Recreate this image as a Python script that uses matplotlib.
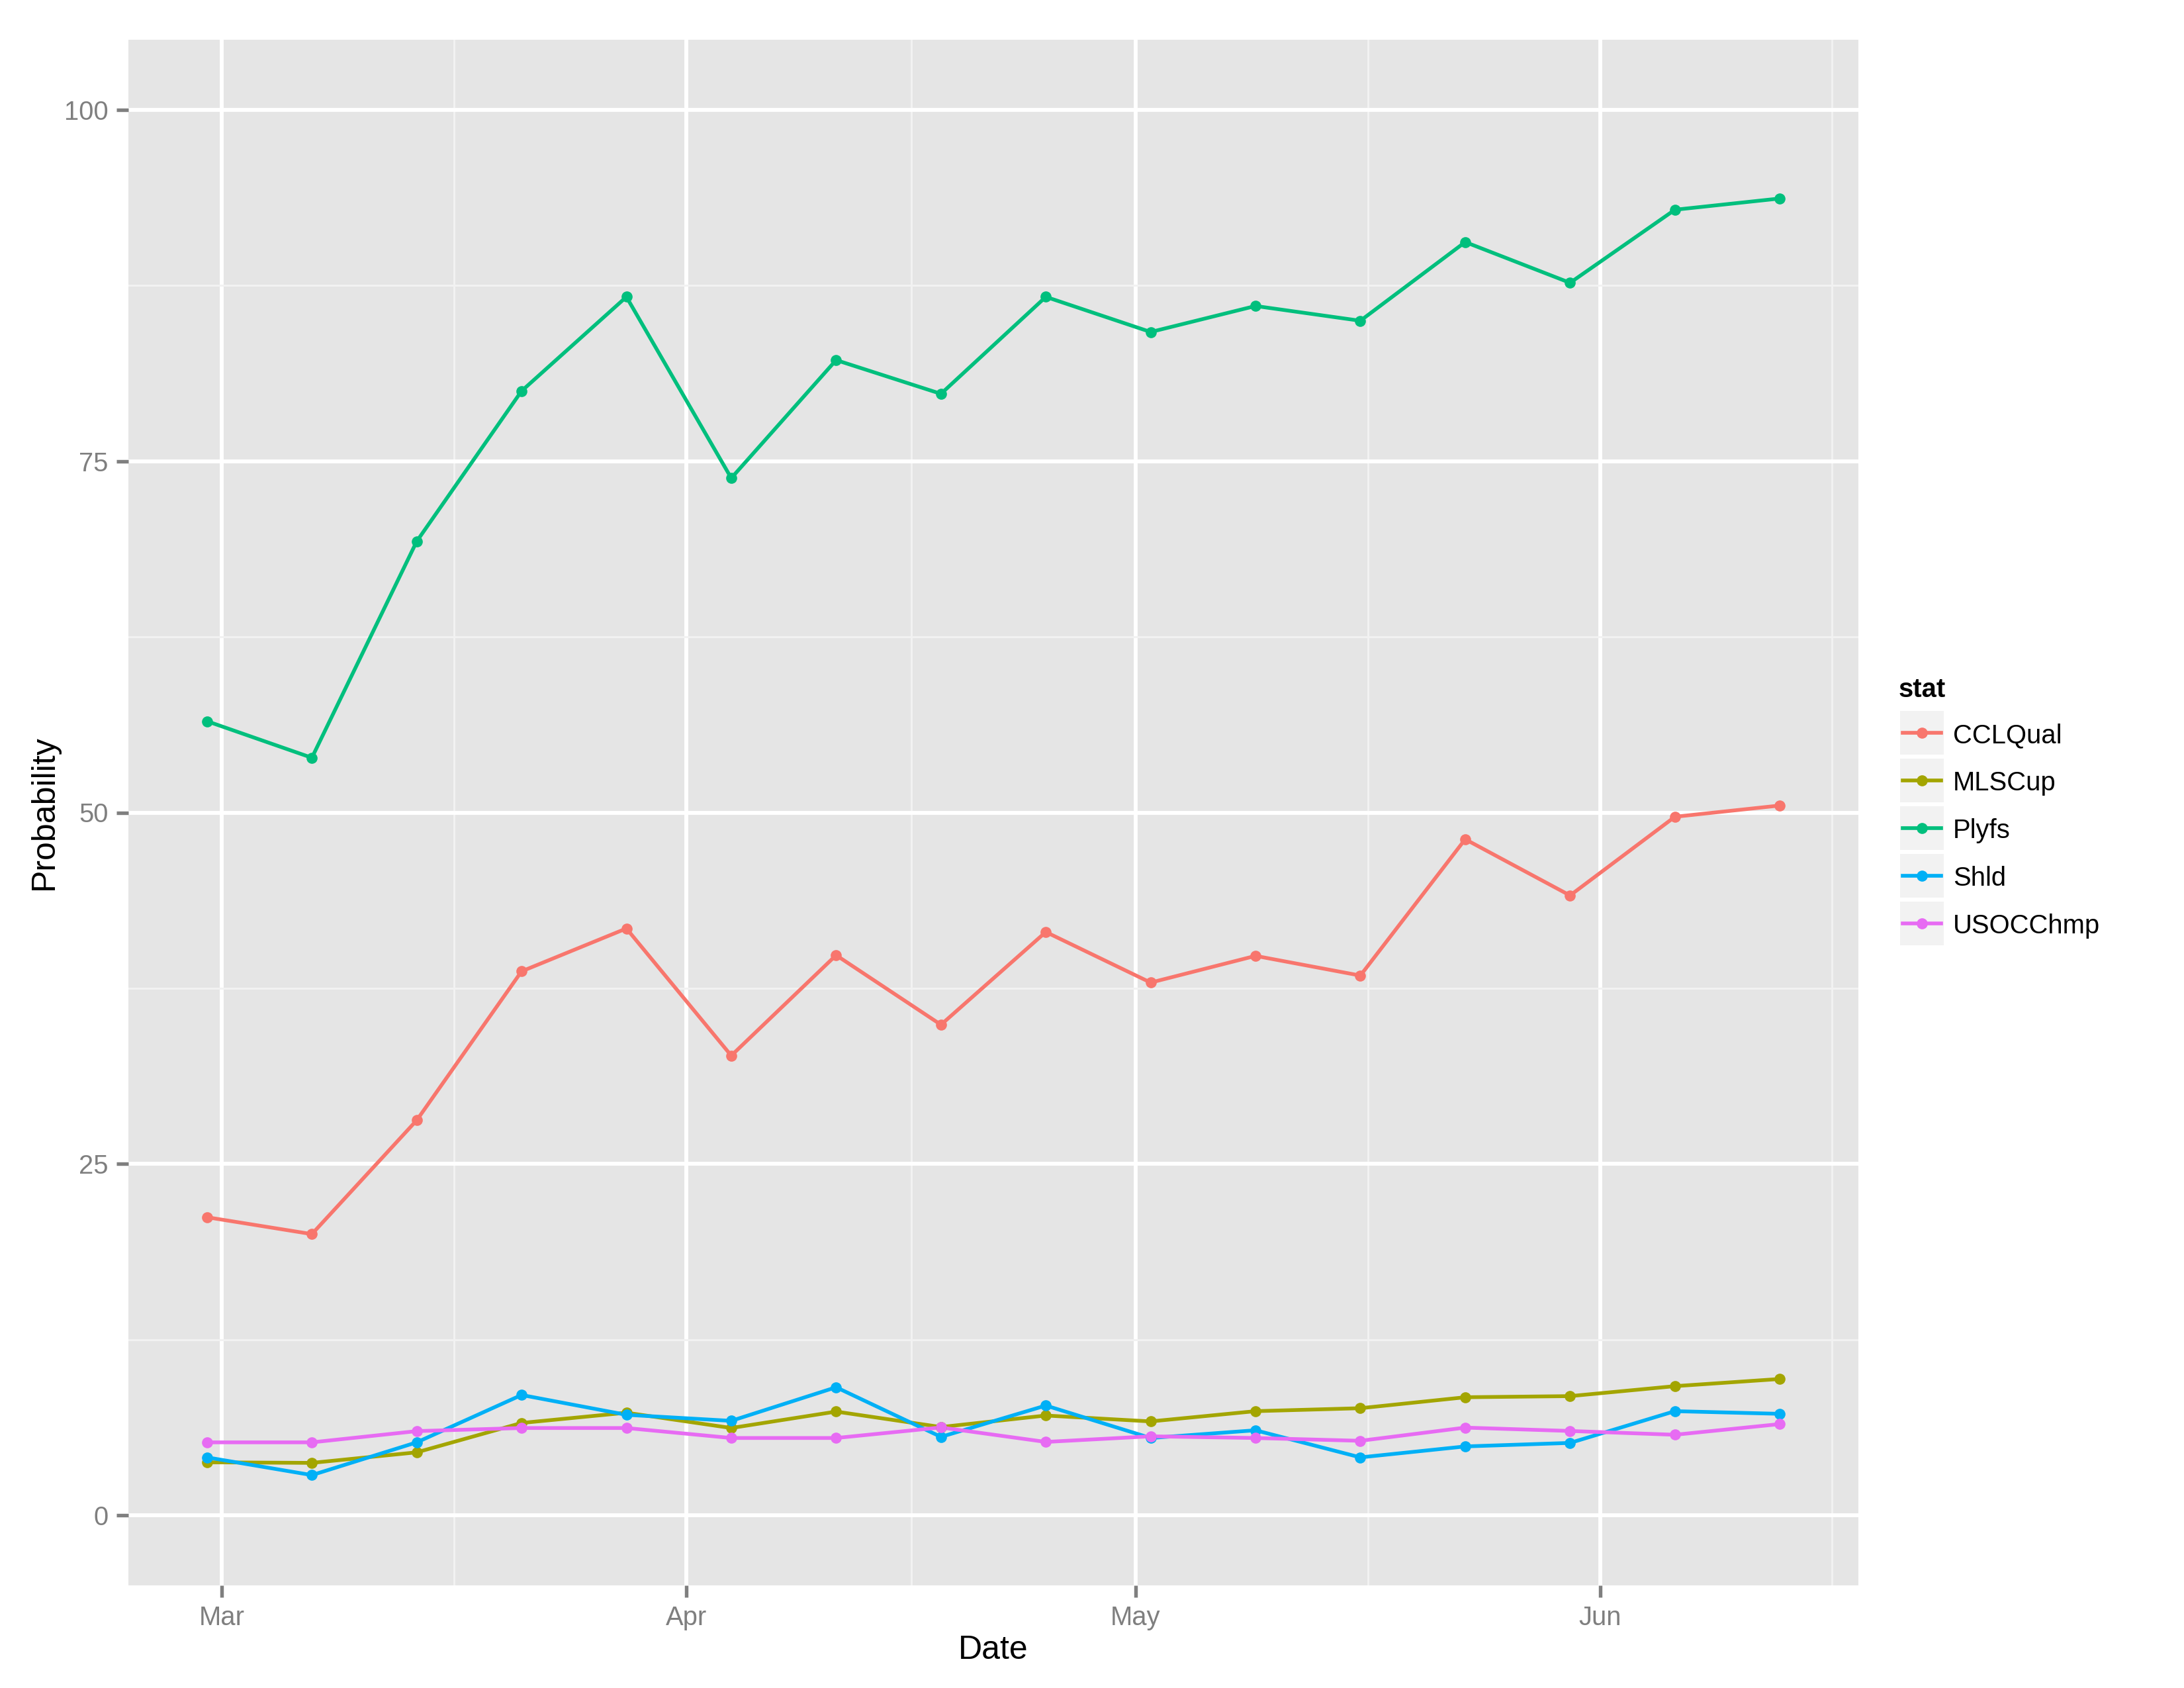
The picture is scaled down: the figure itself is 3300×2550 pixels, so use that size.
import numpy as np
import pandas as pd
import matplotlib
matplotlib.use("Agg")
import matplotlib.pyplot as plt
import matplotlib.dates as mdates
from matplotlib.patches import Rectangle
from matplotlib.lines import Line2D
from matplotlib.ticker import FixedLocator

plt.rcParams['font.family'] = ['Liberation Sans', 'DejaVu Sans']

# ---------------- data ----------------
dates = ['2015-02-28', '2015-03-07', '2015-03-14', '2015-03-21', '2015-03-28',
         '2015-04-04', '2015-04-11', '2015-04-18', '2015-04-25', '2015-05-02',
         '2015-05-09', '2015-05-16', '2015-05-23', '2015-05-30', '2015-06-06',
         '2015-06-13']

stat_names = ['CCLQual', 'MLSCup', 'Plyfs', 'Shld', 'USOCChmp']

cclqual = [21.2, 20.0, 28.1, 38.7, 41.75, 32.7, 39.85, 34.9, 41.5, 37.9,
           39.8, 38.4, 48.1, 44.1, 49.7, 50.5]
mlscup = [3.76, 3.72, 4.47, 6.56, 7.29, 6.2, 7.37, 6.27, 7.09, 6.67,
          7.4, 7.61, 8.39, 8.47, 9.18, 9.69]
plyfs = [56.5, 53.9, 69.3, 80.0, 86.7, 73.8, 82.2, 79.8, 86.7, 84.2,
         86.05, 85.0, 90.6, 87.7, 92.9, 93.7]
shld = [4.11, 2.85, 5.18, 8.55, 7.14, 6.71, 9.1, 5.57, 7.8, 5.49,
        6.04, 4.11, 4.89, 5.14, 7.4, 7.21]
usocchmp = [5.18, 5.18, 5.98, 6.2, 6.2, 5.49, 5.49, 6.24, 5.21, 5.61,
            5.49, 5.29, 6.23, 5.99, 5.72, 6.48]

colors = ['#F8766D', '#A3A500', '#00BF7D', '#00B0F6', '#E76BF3']

y_ticks = [0, 25, 50, 75, 100]
y_minor = [12.5, 37.5, 62.5, 87.5]
x_tick_dates = ['2015-03-01', '2015-04-01', '2015-05-01', '2015-06-01']
x_tick_labels = ['Mar', 'Apr', 'May', 'Jun']

series = [cclqual, mlscup, plyfs, shld, usocchmp]

# ---------------- figure ----------------
W, H = 3300, 2550
fig = plt.figure(figsize=(11, 8.5), dpi=300)
fig.patch.set_facecolor('white')

L, R, T, B = 194, 2808, 60, 2395
ax = fig.add_axes([L / W, 1 - B / H, (R - L) / W, (B - T) / H])
ax.set_facecolor('#E5E5E5')
for s in ax.spines.values():
    s.set_visible(False)

x = mdates.date2num(pd.to_datetime(dates).to_pydatetime())

LW, MS = 1.35, 4.0
for vals, c in zip(series, colors):
    ax.plot(x, vals, color=c, lw=LW, zorder=3, solid_capstyle='butt')
for vals, c in zip(series, colors):
    ax.plot(x, vals, linestyle='none', marker='o', ms=MS, mew=0,
            color=c, zorder=4)

# limits (ggplot-like 5% expansion on x)
span = x.max() - x.min()
ax.set_xlim(x.min() - 0.05 * span, x.max() + 0.05 * span)
ax.set_ylim(-5, 105)

# ticks
xt = mdates.date2num(pd.to_datetime(x_tick_dates).to_pydatetime())
ax.set_xticks(xt)
ax.set_xticklabels(x_tick_labels)
ax.set_yticks(y_ticks)
ax.set_yticklabels([str(v) for v in y_ticks])

# minor x breaks: midpoints between major breaks (extended one step beyond)
step = np.diff(xt)
x_minor = list(xt[:-1] + step / 2) + [xt[-1] + step[-1] / 2]
ax.xaxis.set_minor_locator(FixedLocator(x_minor))
ax.yaxis.set_minor_locator(FixedLocator(y_minor))

ax.tick_params(which='major', length=4.25, width=1.3, color='#7F7F7F',
               labelcolor='#7F7F7F', labelsize=9.6, pad=3)
ax.tick_params(which='minor', length=0)

ax.grid(which='major', color='white', lw=1.42, zorder=1)
ax.grid(which='minor', color='#F2F2F2', lw=0.71, zorder=0.9)
ax.set_axisbelow(True)

# axis titles
fig.text(((L + R) / 2) / W, 1 - 2506 / H, 'Date', ha='center', va='baseline',
         fontsize=12, color='black')
fig.text(67 / W, 1 - ((T + B) / 2) / H, 'Probability', ha='center',
         va='center', rotation=90, fontsize=12, color='black')

# ---------------- legend (manual, ggplot style) ----------------
def fx(px):
    return px / W

def fy(py):
    return 1 - py / H

fig.text(fx(2869), fy(1053), 'stat', fontsize=9.6, fontweight='bold',
         ha='left', va='baseline', color='black')
key_top0, pitch, ksz = 1074, 72, 66
key_x0 = 2871
for i, (name, c) in enumerate(zip(stat_names, colors)):
    top = key_top0 + i * pitch
    fig.patches.append(Rectangle((fx(key_x0), fy(top + ksz)), ksz / W, ksz / H,
                                 transform=fig.transFigure, facecolor='#F2F2F2',
                                 edgecolor='none'))
    cy = top + ksz / 2
    fig.lines.append(Line2D([fx(key_x0 + 4), fx(key_x0 + ksz - 4)], [fy(cy), fy(cy)],
                            transform=fig.transFigure, color=c, lw=LW))
    fig.lines.append(Line2D([fx(key_x0 + ksz / 2)], [fy(cy)], transform=fig.transFigure,
                            color=c, marker='o', ms=MS, mew=0, linestyle='none'))
    fig.text(fx(2951), fy(cy), name, fontsize=9.6, ha='left', va='center_baseline',
             color='black')

fig.savefig('out.png', dpi=300, facecolor='white')
